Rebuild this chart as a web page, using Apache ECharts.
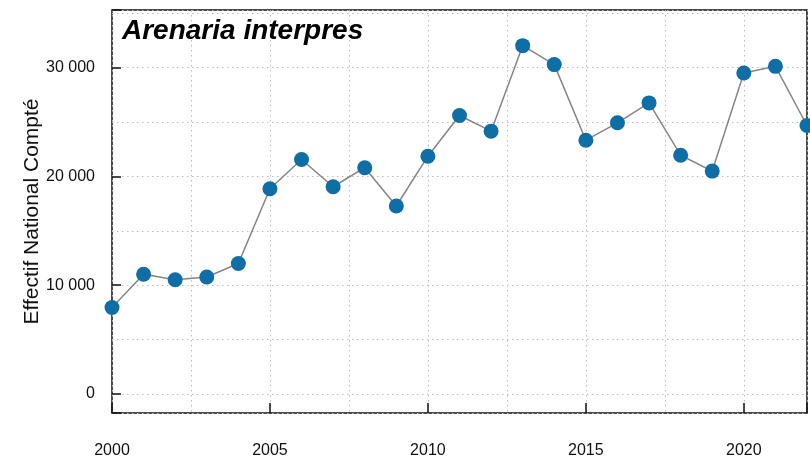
<!DOCTYPE html>
<html>
<head>
<meta charset="utf-8">
<script src="https://cdn.jsdelivr.net/npm/echarts@6/dist/echarts.min.js"></script>
<style>
  html, body { margin: 0; padding: 0; background: #fff; }
  #chart { width: 810px; height: 459px; }
</style>
</head>
<body>
<div id="chart"></div>
<script>
const years = [2000, 2001, 2002, 2003, 2004, 2005, 2006, 2007, 2008, 2009, 2010, 2011,
  2012, 2013, 2014, 2015, 2016, 2017, 2018, 2019, 2020, 2021, 2022]
const counts = [7950, 11000, 10500, 10750, 12000, 18870, 21560, 19050, 20800, 17280, 21860, 25600,
  24160, 32020, 30280, 23330, 24930, 26760, 21950, 20490, 29510, 30120, 24680]
const yLabelValues = [0, 10000, 20000, 30000]
const speciesName = 'Arenaria interpres'
const yName = 'Effectif National Compté'

const font = 'Liberation Sans, Arial, sans-serif'
const chart = echarts.init(document.getElementById('chart'))

function fmtThousands (v) {
  return String(v).replace(/\B(?=(\d{3})+(?!\d))/g, ' ')
}

const dotted = { show: true, lineStyle: { color: '#bdbdbd', type: [1.5, 3.5], width: 1 } }

chart.setOption({
  animation: false,
  title: {
    text: speciesName,
    left: 117,
    top: 12,
    textStyle: { fontFamily: font, fontSize: 28, fontStyle: 'italic', fontWeight: 'bold', color: '#000' }
  },
  grid: {
    left: 112, right: 2, top: 10, bottom: 45,
    show: true, borderColor: '#111', borderWidth: 1.5, backgroundColor: 'transparent'
  },
  xAxis: [
    {
      type: 'value', min: 2000, max: 2022, interval: 2.5,
      axisLine: { show: false, onZero: false },
      axisTick: { show: false },
      splitLine: dotted,
      axisLabel: {
        margin: 30, fontFamily: font, fontSize: 16, color: '#111',
        formatter: v => (v % 5 === 0 ? String(v) : '')
      }
    },
    {
      type: 'value', min: 2000, max: 2022, interval: 5, position: 'bottom',
      axisLine: { show: false, onZero: false },
      axisTick: { show: true, inside: true, length: 10, lineStyle: { color: '#111', width: 1.5 } },
      splitLine: { show: false },
      axisLabel: { show: false }
    }
  ],
  yAxis: [
    {
      type: 'value', min: -1750, max: 35300, minInterval: 5000, maxInterval: 5000, splitNumber: 7,
      position: 'left',
      axisLine: { show: false, onZero: false },
      axisTick: { show: false },
      splitLine: dotted,
      name: yName,
      nameLocation: 'middle',
      nameGap: 69,
      nameMoveOverlap: false,
      nameTextStyle: { fontFamily: font, fontSize: 21, color: '#111' },
      axisLabel: {
        margin: 17, fontFamily: font, fontSize: 16, color: '#111',
        formatter: v => (yLabelValues.indexOf(v) >= 0 ? fmtThousands(v) : '')
      }
    },
    {
      type: 'value', min: -1750, max: 35300, minInterval: 10000, maxInterval: 10000, splitNumber: 4,
      position: 'left',
      axisLine: { show: false, onZero: false },
      axisTick: { show: true, inside: true, length: 9, lineStyle: { color: '#111', width: 1.5 } },
      splitLine: { show: false },
      axisLabel: { show: false }
    }
  ],
  series: [
    {
      type: 'line',
      data: years.map((y, i) => [y, counts[i]]),
      symbol: 'circle',
      symbolSize: 15,
      clip: true,
      lineStyle: { color: '#858585', width: 1.5 },
      itemStyle: { color: '#0e6ea5' },
      z: 5
    }
  ]
})
</script>
</body>
</html>
